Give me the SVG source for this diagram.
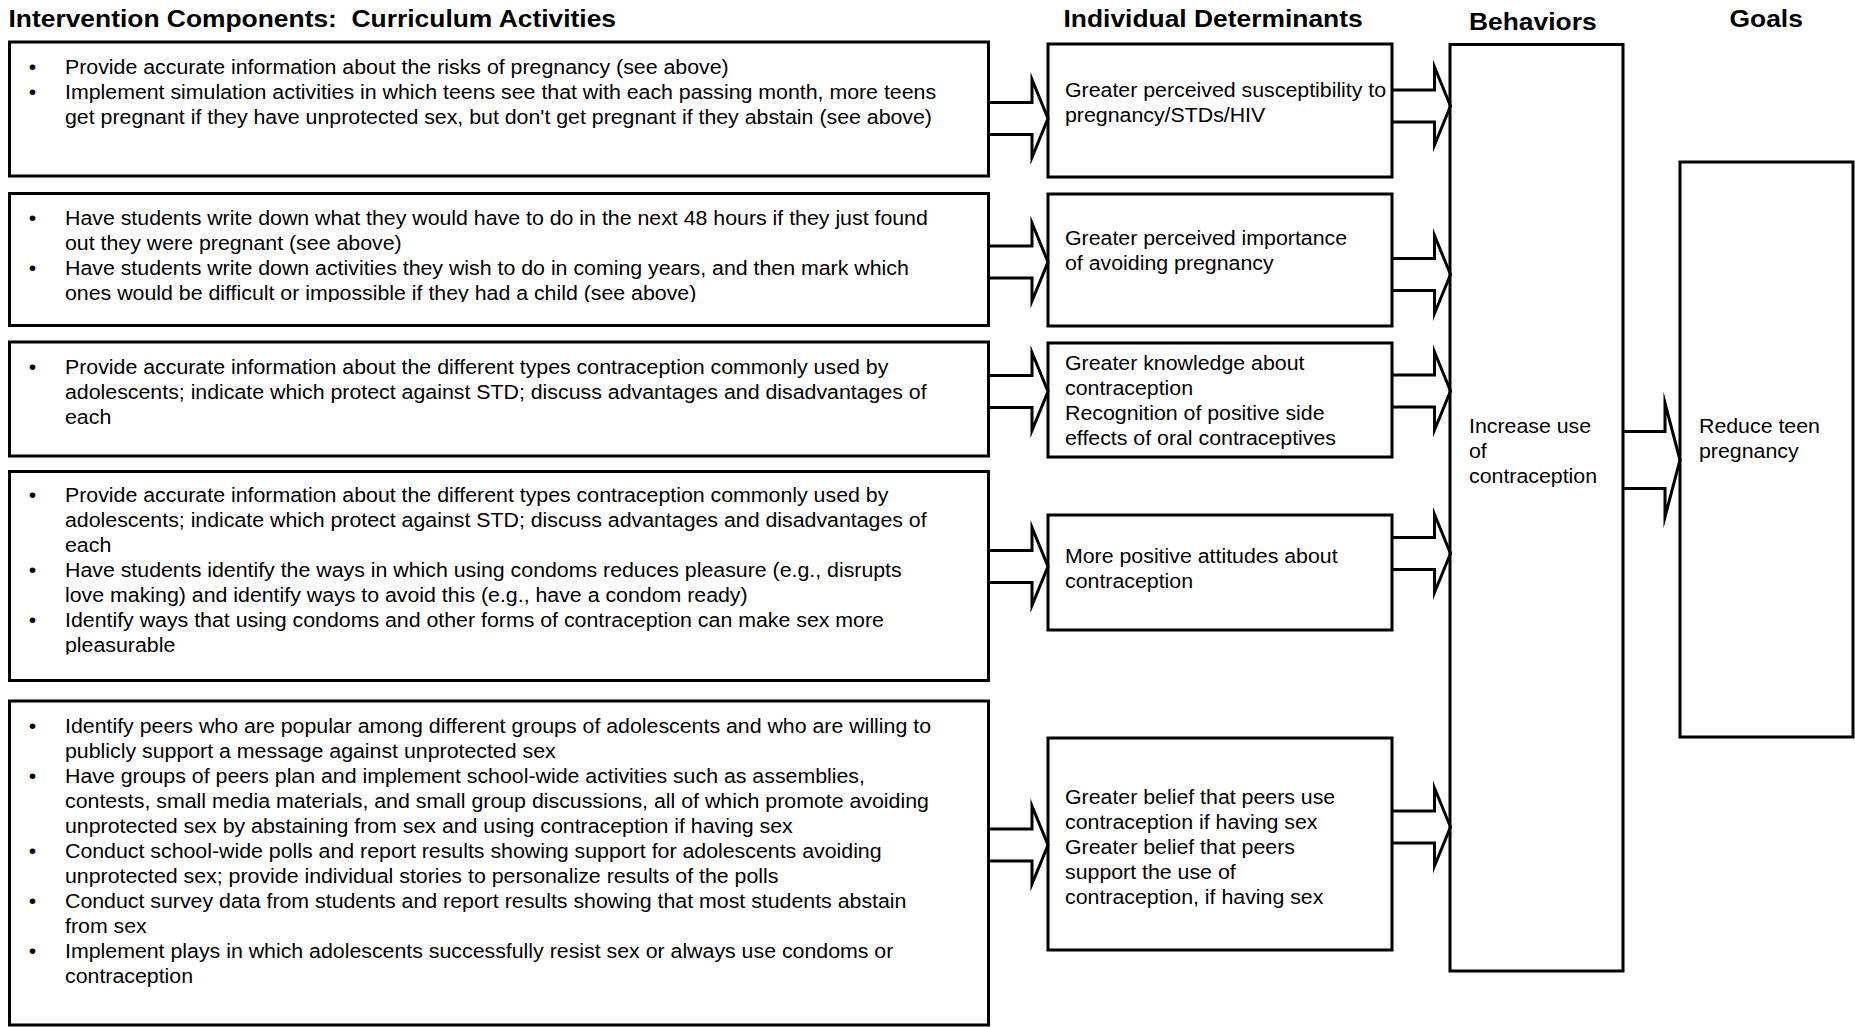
<svg xmlns="http://www.w3.org/2000/svg" width="1855" height="1027" viewBox="0 0 1855 1027">
  <defs>
    <style>
      .box { fill: #fff; stroke: #000; stroke-width: 3; }
      .arr { fill: none; stroke: #000; stroke-width: 3; stroke-linejoin: miter; stroke-miterlimit: 10; }
      .hd { font-family: "Liberation Sans", Arial, sans-serif; font-weight: bold; font-size: 24px; fill: #000; white-space: pre; }
      .tx { font-family: "Liberation Sans", Arial, sans-serif; font-size: 19.4px; fill: #000; }
    </style>
    <!-- outlined block arrows, origin at the tail's vertical centre -->
    <path id="arrS" class="arr" d="M0,-16 H42.5 V-39 L58.5,0 L42.5,39 V16 H0"/>
    <path id="arrL" class="arr" d="M0,-28.5 H42 V-57 L57,0 L42,57 V28.5 H0"/>
    <clipPath id="clipA2"><rect x="9" y="193" width="980" height="109"/></clipPath>
    <clipPath id="clipA4"><rect x="9" y="471" width="980" height="183.5"/></clipPath>
  </defs>

  <rect width="1855" height="1027" fill="#fff"/>

  <!-- column headings -->
  <g id="headings" class="hd">
    <text xml:space="preserve" transform="translate(8.5 27) scale(1.1 1)">Intervention Components:  Curriculum Activities</text>
    <text transform="translate(1063.5 27) scale(1.1 1)">Individual Determinants</text>
    <text transform="translate(1469 30) scale(1.1 1)">Behaviors</text>
    <text transform="translate(1729.5 27) scale(1.1 1)">Goals</text>
  </g>

  <!-- curriculum activity boxes -->
  <g id="activity-1">
    <rect class="box" x="9.5" y="42" width="979" height="134"/>
    <g class="tx" transform="translate(65 0) scale(1.1 1)">
      <text x="-32.9" y="74.5">•</text>
      <text x="0" y="74.5">Provide accurate information about the risks of pregnancy (see above)</text>
      <text x="-32.9" y="99.5">•</text>
      <text x="0" y="99.5">Implement simulation activities in which teens see that with each passing month, more teens</text>
      <text x="0" y="124.5">get pregnant if they have unprotected sex, but don't get pregnant if they abstain (see above)</text>
    </g>
  </g>

  <g id="activity-2">
    <rect class="box" x="9.5" y="193.5" width="979" height="132"/>
    <g clip-path="url(#clipA2)">
      <g class="tx" transform="translate(65 0) scale(1.1 1)">
        <text x="-32.9" y="225.5">•</text>
        <text x="0" y="225.5">Have students write down what they would have to do in the next 48 hours if they just found</text>
        <text x="0" y="250.5">out they were pregnant (see above)</text>
        <text x="-32.9" y="275.5">•</text>
        <text x="0" y="275.5">Have students write down activities they wish to do in coming years, and then mark which</text>
        <text x="0" y="300.5">ones would be difficult or impossible if they had a child (see above)</text>
      </g>
    </g>
  </g>

  <g id="activity-3">
    <rect class="box" x="9.5" y="342" width="979" height="114"/>
    <g class="tx" transform="translate(65 0) scale(1.1 1)">
      <text x="-32.9" y="374.5">•</text>
      <text x="0" y="374.5">Provide accurate information about the different types contraception commonly used by</text>
      <text x="0" y="399.5">adolescents; indicate which protect against STD; discuss advantages and disadvantages of</text>
      <text x="0" y="424.5">each</text>
    </g>
  </g>

  <g id="activity-4">
    <rect class="box" x="9.5" y="471.5" width="979" height="209"/>
    <g clip-path="url(#clipA4)">
      <g class="tx" transform="translate(65 0) scale(1.1 1)">
        <text x="-32.9" y="502.5">•</text>
        <text x="0" y="502.5">Provide accurate information about the different types contraception commonly used by</text>
        <text x="0" y="527.5">adolescents; indicate which protect against STD; discuss advantages and disadvantages of</text>
        <text x="0" y="552.5">each</text>
        <text x="-32.9" y="577.5">•</text>
        <text x="0" y="577.5">Have students identify the ways in which using condoms reduces pleasure (e.g., disrupts</text>
        <text x="0" y="602.5">love making) and identify ways to avoid this (e.g., have a condom ready)</text>
        <text x="-32.9" y="627.5">•</text>
        <text x="0" y="627.5">Identify ways that using condoms and other forms of contraception can make sex more</text>
        <text x="0" y="652.5">pleasurable</text>
      </g>
    </g>
  </g>

  <g id="activity-5">
    <rect class="box" x="9.5" y="701" width="979" height="324"/>
    <g class="tx" transform="translate(65 0) scale(1.1 1)">
      <text x="-32.9" y="733.5">•</text>
      <text x="0" y="733.5">Identify peers who are popular among different groups of adolescents and who are willing to</text>
      <text x="0" y="758.5">publicly support a message against unprotected sex</text>
      <text x="-32.9" y="783.5">•</text>
      <text x="0" y="783.5">Have groups of peers plan and implement school-wide activities such as assemblies,</text>
      <text x="0" y="808.5">contests, small media materials, and small group discussions, all of which promote avoiding</text>
      <text x="0" y="833.5">unprotected sex by abstaining from sex and using contraception if having sex</text>
      <text x="-32.9" y="858.5">•</text>
      <text x="0" y="858.5">Conduct school-wide polls and report results showing support for adolescents avoiding</text>
      <text x="0" y="883.5">unprotected sex; provide individual stories to personalize results of the polls</text>
      <text x="-32.9" y="908.5">•</text>
      <text x="0" y="908.5">Conduct survey data from students and report results showing that most students abstain</text>
      <text x="0" y="933.5">from sex</text>
      <text x="-32.9" y="958.5">•</text>
      <text x="0" y="958.5">Implement plays in which adolescents successfully resist sex or always use condoms or</text>
      <text x="0" y="983.5">contraception</text>
    </g>
  </g>

  <!-- individual determinant boxes -->
  <g id="determinant-1">
    <rect class="box" x="1048" y="44" width="344" height="133"/>
    <g class="tx" transform="translate(1065 0) scale(1.1 1)">
      <text x="0" y="97">Greater perceived susceptibility to</text>
      <text x="0" y="122">pregnancy/STDs/HIV</text>
    </g>
  </g>

  <g id="determinant-2">
    <rect class="box" x="1048" y="194" width="344" height="132"/>
    <g class="tx" transform="translate(1065 0) scale(1.1 1)">
      <text x="0" y="245">Greater perceived importance</text>
      <text x="0" y="270">of avoiding pregnancy</text>
    </g>
  </g>

  <g id="determinant-3">
    <rect class="box" x="1048" y="343" width="344" height="114"/>
    <g class="tx" transform="translate(1065 0) scale(1.1 1)">
      <text x="0" y="370">Greater knowledge about</text>
      <text x="0" y="395">contraception</text>
      <text x="0" y="420">Recognition of positive side</text>
      <text x="0" y="445">effects of oral contraceptives</text>
    </g>
  </g>

  <g id="determinant-4">
    <rect class="box" x="1048" y="515" width="344" height="115"/>
    <g class="tx" transform="translate(1065 0) scale(1.1 1)">
      <text x="0" y="563">More positive attitudes about</text>
      <text x="0" y="588">contraception</text>
    </g>
  </g>

  <g id="determinant-5">
    <rect class="box" x="1048" y="738" width="344" height="212"/>
    <g class="tx" transform="translate(1065 0) scale(1.1 1)">
      <text x="0" y="804">Greater belief that peers use</text>
      <text x="0" y="829">contraception if having sex</text>
      <text x="0" y="854">Greater belief that peers</text>
      <text x="0" y="879">support the use of</text>
      <text x="0" y="904">contraception, if having sex</text>
    </g>
  </g>

  <!-- behaviour box -->
  <g id="behavior">
    <rect class="box" x="1450" y="44.5" width="173" height="926.5"/>
    <g class="tx" transform="translate(1469 0) scale(1.1 1)">
      <text x="0" y="433">Increase use</text>
      <text x="0" y="458">of</text>
      <text x="0" y="483">contraception</text>
    </g>
  </g>

  <!-- goal box -->
  <g id="goal">
    <rect class="box" x="1680" y="162" width="173" height="575"/>
    <g class="tx" transform="translate(1699 0) scale(1.1 1)">
      <text x="0" y="433">Reduce teen</text>
      <text x="0" y="458">pregnancy</text>
    </g>
  </g>

  <!-- block-arrow connectors -->
  <g id="connectors">
    <use href="#arrS" transform="translate(989.5 118.5)"/>
    <use href="#arrS" transform="translate(989.5 262)"/>
    <use href="#arrS" transform="translate(989.5 391.5)"/>
    <use href="#arrS" transform="translate(989.5 566.5)"/>
    <use href="#arrS" transform="translate(989.5 845)"/>
    <use href="#arrS" transform="translate(1392 106)"/>
    <use href="#arrS" transform="translate(1392 274.5)"/>
    <use href="#arrS" transform="translate(1392 391)"/>
    <use href="#arrS" transform="translate(1392 553.5)"/>
    <use href="#arrS" transform="translate(1392 827)"/>
    <use href="#arrL" transform="translate(1623 460)"/>
  </g>
</svg>
